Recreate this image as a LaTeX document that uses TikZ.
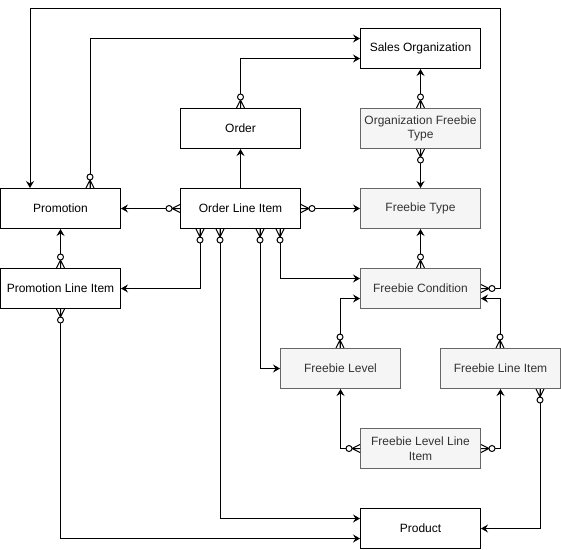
\documentclass[tikz,border=0pt]{standalone}
\usepackage{fontspec}
\setmainfont{Liberation Sans}
\usetikzlibrary{arrows.meta}
\definecolor{gfill}{HTML}{F5F5F5}
\definecolor{gline}{HTML}{666666}
\definecolor{gtext}{HTML}{333333}
\tikzset{
  ent/.style={draw=black, fill=white, line width=1pt, minimum width=120pt, minimum height=40pt,
    inner sep=0pt, align=center, font=\fontsize{12}{14.5}\selectfont, text=black},
  gent/.style={ent, draw=gline, fill=gfill, text=gtext},
  conn/.style={line width=1pt, draw=black, -{Stealth[length=7pt,width=8pt,inset=2.5pt]}},
  zm/.pic={
    \draw[line width=1pt] (8,0) -- (0,4) (8,0) -- (0,-4) (8,0) -- (0,0);
    \draw[line width=1pt, fill=white] (11,0) circle (3);
  }
}
\begin{document}
\begin{tikzpicture}[x=1pt,y=-1pt]
\useasboundingbox (-0.5,-0.5) rectangle (560.5,548.5);
\node[ent]  (so)   at (420,48)  {Sales Organization};
\node[ent]  (ord)  at (240,128) {Order};
\node[gent] (oft)  at (420,128) {Organization Freebie\\Type};
\node[ent]  (prom) at (60,208)  {Promotion};
\node[ent]  (oli)  at (240,208) {Order Line Item};
\node[gent] (ft)   at (420,208) {Freebie Type};
\node[ent]  (pli)  at (60,288)  {Promotion Line Item};
\node[gent] (fc)   at (420,288) {Freebie Condition};
\node[gent] (fl)   at (340,368) {Freebie Level};
\node[gent] (fli)  at (500,368) {Freebie Line Item};
\node[gent] (flli) at (420,448) {Freebie Level Line\\Item};
\node[ent]  (prod) at (420,528) {Product};
\coordinate (topA) at (500,8);

% connectors
\draw[conn] (fc.east) -| (topA) -| ([xshift=30pt]prom.north west);
\draw[conn] ([xshift=90pt]prom.north west) |- ([yshift=10pt]so.west);
\draw[conn] (ord.north) |- ([yshift=-10pt]so.west);
\draw[conn] (oli.north) -- (ord.south);
\draw[conn] (oli.west) -- (prom.east);
\draw[conn] (oli.east) -- (ft.west);
\draw[conn] (oft.north) -- (so.south);
\draw[conn] (oft.south) -- (ft.north);
\draw[conn] (fc.north) -- (ft.south);
\draw[conn] ([xshift=20pt]oli.south west) |- (pli.east);
\draw[conn] ([xshift=40pt]oli.south west) |- ([yshift=10pt]prod.west);
\draw[conn] ([xshift=80pt]oli.south west) |- (fl.west);
\draw[conn] ([xshift=100pt]oli.south west) |- ([yshift=10pt]fc.west);
\draw[conn] (pli.north) -- (prom.south);
\draw[conn] (pli.south) |- ([yshift=-10pt]prod.west);
\draw[conn] ([xshift=60pt]fl.north west) |- ([yshift=-10pt]fc.west);
\draw[conn] ([xshift=60pt]fli.north west) |- ([yshift=-10pt]fc.east);
\draw[conn] (flli.west) -| (fl.south);
\draw[conn] (flli.east) -| (fli.south);
\draw[conn] ([xshift=100pt]fli.south west) |- (prod.east);

% zero-to-many markers
\pic at (fc.east) {zm};
\pic[rotate=90] at ([xshift=90pt]prom.north west) {zm};
\pic[rotate=90] at (ord.north) {zm};
\pic[rotate=180] at (oli.west) {zm};
\pic at (oli.east) {zm};
\pic[rotate=90] at (oft.north) {zm};
\pic[rotate=-90] at (oft.south) {zm};
\pic[rotate=90] at (fc.north) {zm};
\pic[rotate=-90] at ([xshift=20pt]oli.south west) {zm};
\pic[rotate=-90] at ([xshift=40pt]oli.south west) {zm};
\pic[rotate=-90] at ([xshift=80pt]oli.south west) {zm};
\pic[rotate=-90] at ([xshift=100pt]oli.south west) {zm};
\pic[rotate=90] at (pli.north) {zm};
\pic[rotate=-90] at (pli.south) {zm};
\pic[rotate=90] at ([xshift=60pt]fl.north west) {zm};
\pic[rotate=90] at ([xshift=60pt]fli.north west) {zm};
\pic[rotate=180] at (flli.west) {zm};
\pic at (flli.east) {zm};
\pic[rotate=-90] at ([xshift=100pt]fli.south west) {zm};
\end{tikzpicture}
\end{document}
